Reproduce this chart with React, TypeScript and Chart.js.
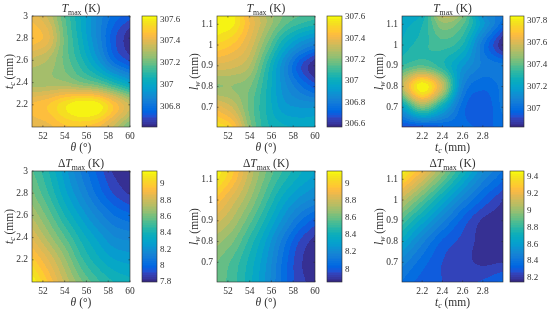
import React, { useEffect, useRef } from "react";
import { Chart, registerables } from "chart.js";

Chart.register(...registerables);

const thetaNodes = [51, 52.5, 54, 55.5, 57, 58.5, 60];
const tcRows = [2, 2.2, 2.4, 2.6, 2.8, 3];
const tcNodes = [2, 2.2, 2.4, 2.6, 2.8, 3];
const lwRows = [0.605, 0.7, 0.8, 0.9, 1, 1.1, 1.14];

const thetaTicks = [52, 54, 56, 58, 60];
const tcYTicks = [2.2, 2.4, 2.6, 2.8, 3];
const tcXTicks = [2.2, 2.4, 2.6, 2.8];
const lwTicks = [0.7, 0.8, 0.9, 1, 1.1];

const tmaxThetaTc = [
  [307.41, 307.43, 307.48, 307.49, 307.45, 307.34, 307.2],
  [307.45, 307.49, 307.57, 307.63, 307.61, 307.48, 307.34],
  [307.28, 307.28, 307.27, 307.22, 307.17, 307.08, 306.98],
  [307.34, 307.3, 307.2, 307.09, 306.95, 306.78, 306.69],
  [307.48, 307.41, 307.2, 307.04, 306.88, 306.72, 306.62],
  [307.43, 307.34, 307.17, 307.02, 306.88, 306.78, 306.72],
];
const tmaxThetaLw = [
  [307.56, 307.47, 307.21, 307.06, 307.01, 306.99, 306.99],
  [307.4, 307.32, 307.17, 307.04, 306.93, 306.9, 306.9],
  [307.23, 307.23, 307.19, 307.05, 306.89, 306.78, 306.69],
  [307.36, 307.34, 307.28, 307.09, 306.88, 306.69, 306.57],
  [307.51, 307.46, 307.36, 307.19, 307.01, 306.88, 306.8],
  [307.61, 307.57, 307.42, 307.28, 307.16, 307.09, 307.05],
  [307.61, 307.58, 307.4, 307.28, 307.19, 307.14, 307.11],
];
const tmaxTcLw = [
  [306.9, 306.91, 306.95, 306.98, 306.96, 306.98],
  [307.19, 307.44, 307.24, 306.99, 306.93, 307.03],
  [307.54, 307.84, 307.56, 307.08, 306.98, 307.03],
  [307.34, 307.39, 307.31, 307.16, 307.05, 307.03],
  [307.26, 307.32, 307.36, 307.29, 307.03, 306.83],
  [307.22, 307.29, 307.46, 307.39, 307.17, 306.98],
  [307.19, 307.26, 307.54, 307.44, 307.13, 307.03],
];
const dtThetaTc = [
  [9.15, 8.97, 8.78, 8.62, 8.5, 8.42, 8.38],
  [9.0, 8.85, 8.68, 8.5, 8.38, 8.3, 8.27],
  [8.85, 8.7, 8.55, 8.4, 8.28, 8.18, 8.15],
  [8.72, 8.58, 8.42, 8.28, 8.15, 8.05, 8.0],
  [8.62, 8.48, 8.32, 8.17, 8.03, 7.92, 7.85],
  [8.55, 8.42, 8.26, 8.1, 7.97, 7.85, 7.8],
];
const dtThetaLw = [
  [8.6, 8.52, 8.4, 8.25, 8.07, 7.94, 7.88],
  [8.62, 8.54, 8.42, 8.27, 8.08, 7.93, 7.86],
  [8.7, 8.62, 8.48, 8.32, 8.13, 7.97, 7.88],
  [8.82, 8.72, 8.58, 8.42, 8.25, 8.1, 8.0],
  [8.95, 8.82, 8.68, 8.52, 8.36, 8.25, 8.18],
  [9.1, 8.95, 8.76, 8.6, 8.47, 8.37, 8.3],
  [9.13, 8.98, 8.78, 8.62, 8.5, 8.4, 8.32],
];
const dtTcLw = [
  [8.38, 8.3, 8.27, 8.26, 8.28, 8.35],
  [8.48, 8.36, 8.27, 8.23, 8.2, 8.21],
  [8.66, 8.47, 8.32, 8.25, 8.19, 8.18],
  [8.86, 8.66, 8.47, 8.31, 8.2, 8.17],
  [9.08, 8.88, 8.67, 8.47, 8.32, 8.21],
  [9.36, 9.13, 8.9, 8.67, 8.47, 8.34],
  [9.46, 9.23, 8.98, 8.74, 8.53, 8.38],
];

const cbTicksA = [306.8, 307, 307.2, 307.4, 307.6];
const cbTicksB = [306.6, 306.8, 307, 307.2, 307.4, 307.6];
const cbTicksC = [307, 307.2, 307.4, 307.6, 307.8];
const cbTicksD = [7.8, 8, 8.2, 8.4, 8.6, 8.8, 9];
const cbTicksE = [8, 8.2, 8.4, 8.6, 8.8, 9];
const cbTicksF = [8.2, 8.4, 8.6, 8.8, 9, 9.2, 9.4];

const parula = [
  [0.2081,0.1663,0.5292],[0.2116,0.1898,0.5777],[0.2123,0.2138,0.6270],[0.2081,0.2386,0.6771],
  [0.1959,0.2645,0.7279],[0.1707,0.2919,0.7792],[0.1253,0.3242,0.8303],[0.0591,0.3598,0.8683],
  [0.0117,0.3875,0.8820],[0.0060,0.4086,0.8828],[0.0165,0.4266,0.8786],[0.0329,0.4430,0.8720],
  [0.0498,0.4586,0.8641],[0.0629,0.4737,0.8554],[0.0723,0.4887,0.8467],[0.0779,0.5040,0.8384],
  [0.0793,0.5200,0.8312],[0.0749,0.5375,0.8263],[0.0641,0.5570,0.8240],[0.0488,0.5772,0.8228],
  [0.0343,0.5966,0.8199],[0.0265,0.6137,0.8135],[0.0239,0.6287,0.8038],[0.0231,0.6418,0.7913],
  [0.0228,0.6535,0.7768],[0.0267,0.6642,0.7607],[0.0384,0.6743,0.7436],[0.0590,0.6838,0.7254],
  [0.0843,0.6928,0.7062],[0.1133,0.7015,0.6859],[0.1453,0.7098,0.6646],[0.1801,0.7177,0.6424],
  [0.2178,0.7250,0.6193],[0.2586,0.7317,0.5954],[0.3022,0.7376,0.5712],[0.3482,0.7424,0.5473],
  [0.3953,0.7459,0.5244],[0.4420,0.7481,0.5033],[0.4871,0.7491,0.4840],[0.5300,0.7491,0.4661],
  [0.5709,0.7485,0.4494],[0.6099,0.7473,0.4337],[0.6473,0.7456,0.4188],[0.6834,0.7435,0.4044],
  [0.7184,0.7411,0.3905],[0.7525,0.7384,0.3768],[0.7858,0.7356,0.3633],[0.8185,0.7327,0.3498],
  [0.8507,0.7299,0.3360],[0.8824,0.7274,0.3217],[0.9139,0.7258,0.3063],[0.9450,0.7261,0.2886],
  [0.9739,0.7314,0.2666],[0.9938,0.7455,0.2403],[0.9990,0.7653,0.2164],[0.9955,0.7861,0.1967],
  [0.9880,0.8066,0.1794],[0.9789,0.8271,0.1633],[0.9697,0.8481,0.1475],[0.9626,0.8705,0.1309],
  [0.9589,0.8949,0.1132],[0.9598,0.9218,0.0948],[0.9661,0.9514,0.0755],[0.9763,0.9831,0.0538],
];

const FONT = '"Liberation Serif"';
const INK = "#303030";
const LEVELS = 22;

type Run = { t: string; i?: boolean; sub?: boolean };
const titleT: Run[] = [{ t: "T", i: true }, { t: "max", sub: true }, { t: " (K)" }];
const titleD: Run[] = [{ t: "\u0394" }, { t: "T", i: true }, { t: "max", sub: true }, { t: " (K)" }];
const labelTheta: Run[] = [{ t: "\u03b8", i: true }, { t: " (\u00b0)" }];
const labelTc: Run[] = [{ t: "t", i: true }, { t: "c", i: true, sub: true }, { t: " (mm)" }];
const labelLw: Run[] = [{ t: "l", i: true }, { t: "w", i: true, sub: true }, { t: " (mm)" }];

function rgb(f: number) {
  const k = Math.max(0, Math.min(63, Math.floor(f * 64)));
  const c = parula[k];
  return [Math.round(c[0] * 255), Math.round(c[1] * 255), Math.round(c[2] * 255)];
}

function tangents(xs: number[], vs: number[]) {
  return xs.map((_, i) => {
    if (i === 0) return (vs[1] - vs[0]) / (xs[1] - xs[0]);
    if (i === xs.length - 1) return (vs[i] - vs[i - 1]) / (xs[i] - xs[i - 1]);
    return (vs[i + 1] - vs[i - 1]) / (xs[i + 1] - xs[i - 1]);
  });
}
function hermite(xs: number[], vs: number[], x: number) {
  let i = 0;
  while (i < xs.length - 2 && x > xs[i + 1]) i++;
  const h = xs[i + 1] - xs[i];
  const t = (x - xs[i]) / h;
  const m = tangents(xs, vs);
  const t2 = t * t, t3 = t2 * t;
  return (2 * t3 - 3 * t2 + 1) * vs[i] + (t3 - 2 * t2 + t) * h * m[i] + (-2 * t3 + 3 * t2) * vs[i + 1] + (t3 - t2) * h * m[i + 1];
}

function drawRuns(ctx: any, runs: Run[], cx: number, cy: number, size: number, rot = 0) {
  ctx.save();
  ctx.translate(cx, cy);
  ctx.rotate(rot);
  ctx.fillStyle = INK;
  ctx.textBaseline = "alphabetic";
  ctx.textAlign = "left";
  const fontOf = (r: Run) => `${r.i ? "italic " : ""}${r.sub ? size * 0.68 : size}px ${FONT}`;
  let w = 0;
  for (const r of runs) { ctx.font = fontOf(r); w += ctx.measureText(r.t).width; }
  let x = -w / 2;
  for (const r of runs) {
    ctx.font = fontOf(r);
    ctx.fillText(r.t, x, size * 0.33 + (r.sub ? size * 0.22 : 0));
    x += ctx.measureText(r.t).width;
  }
  ctx.restore();
}

type Panel = {
  left: number; top: number; width: number; height: number;
  plotL: number; plotR: number; plotT: number; plotB: number;
  cbL: number; cbR: number; labelX: number;
  xs: number[]; ys: number[]; z: number[][];
  xMin: number; xMax: number; yMin: number; yMax: number;
  cMin: number; cMax: number;
  xTicks: number[]; yTicks: number[]; cTicks: number[];
  title: Run[]; xLabel: Run[]; yLabel: Run[];
};

const fieldPlugin = {
  id: "field",
  beforeDatasetsDraw(chart: any, _a: any, o: any) {
    const p: Panel = o.panel;
    const { ctx, chartArea: a, scales } = chart;
    const pts = chart.data.datasets[0].data;
    const nx = p.xs.length;
    const w = Math.round(a.right - a.left), h = Math.round(a.bottom - a.top);
    const off = document.createElement("canvas");
    off.width = w; off.height = h;
    const oc: any = off.getContext("2d");
    const img = oc.createImageData(w, h);
    const rows = p.ys.map((_, r) => pts.slice(r * nx, (r + 1) * nx).map((d: any) => d.v));
    for (let py = 0; py < h; py++) {
      const yv = scales.y.getValueForPixel(a.top + py + 0.5);
      for (let px = 0; px < w; px++) {
        const xv = scales.x.getValueForPixel(a.left + px + 0.5);
        const col = rows.map((row: number[]) => hermite(p.xs, row, xv));
        const v = hermite(p.ys, col, yv);
        let f = (v - p.cMin) / (p.cMax - p.cMin);
        f = (Math.floor(Math.max(0, Math.min(0.9999, f)) * LEVELS) + 0.5) / LEVELS;
        const c = rgb(f);
        const k = (py * w + px) * 4;
        img.data[k] = c[0]; img.data[k + 1] = c[1]; img.data[k + 2] = c[2]; img.data[k + 3] = 255;
      }
    }
    oc.putImageData(img, 0, 0);
    ctx.save();
    ctx.drawImage(off, a.left, a.top);
    ctx.beginPath();
    ctx.rect(a.left, a.top, w, h);
    ctx.clip();
    ctx.filter = "blur(0.5px)";
    ctx.drawImage(off, a.left, a.top);
    ctx.restore();
    const cb = scales.cb;
    for (let py = Math.round(a.top); py < Math.round(a.bottom); py++) {
      const v = cb.getValueForPixel(py + 0.5);
      const c = rgb((v - p.cMin) / (p.cMax - p.cMin));
      ctx.fillStyle = `rgb(${c[0]},${c[1]},${c[2]})`;
      ctx.fillRect(p.cbL - p.left, py, p.cbR - p.cbL, 1);
    }
  },
  afterDraw(chart: any, _a: any, o: any) {
    const p: Panel = o.panel;
    const { ctx, chartArea: a, scales } = chart;
    ctx.save();
    ctx.strokeStyle = "#2a2a2a";
    ctx.lineWidth = 0.6;
    const tick = (x0: number, y0: number, x1: number, y1: number) => {
      ctx.beginPath(); ctx.moveTo(x0, y0); ctx.lineTo(x1, y1); ctx.stroke();
    };
    ctx.strokeRect(a.left, a.top, a.right - a.left, a.bottom - a.top);
    const cL = p.cbL - p.left, cR = p.cbR - p.left;
    ctx.strokeRect(cL, a.top, cR - cL, a.bottom - a.top);
    for (const t of scales.x.ticks) {
      const x = scales.x.getPixelForValue(t.value);
      tick(x, a.bottom, x, a.bottom - 1.5);
      tick(x, a.top, x, a.top + 1.5);
    }
    for (const t of scales.y.ticks) {
      const y = scales.y.getPixelForValue(t.value);
      tick(a.left, y, a.left + 1.5, y);
      tick(a.right, y, a.right - 1.5, y);
    }
    ctx.restore();
    const cx = (a.left + a.right) / 2;
    drawRuns(ctx, p.title, cx, a.top - 7.5, 11.5);
    drawRuns(ctx, p.xLabel, cx, a.bottom + 20, 11.5);
    drawRuns(ctx, p.yLabel, p.labelX - p.left, (a.top + a.bottom) / 2, 11.5, -Math.PI / 2);
  },
};

function zeroPad(s: any) {
  s.paddingTop = 0; s.paddingBottom = 0; s.paddingLeft = 0; s.paddingRight = 0;
}

function makeConfig(p: Panel): any {
  const points: any[] = [];
  p.ys.forEach((y, r) => p.xs.forEach((x, c) => points.push({ x, y, v: p.z[r][c] })));
  const tickFont = { family: FONT, size: 9.5 };
  const fmt = (v: any) => String(Math.round(v * 100) / 100);
  const grid = { display: false, drawTicks: false };
  return {
    type: "scatter",
    data: { datasets: [{ data: points, pointRadius: 0, showLine: false, xAxisID: "x", yAxisID: "y" }] },
    plugins: [fieldPlugin],
    options: {
      animation: false,
      responsive: false,
      layout: { padding: { top: p.plotT - p.top, left: 0, right: 0, bottom: 0 } },
      plugins: { legend: { display: false }, tooltip: { enabled: false }, title: { display: false }, field: { panel: p } },
      scales: {
        x: {
          type: "linear", position: "bottom", min: p.xMin, max: p.xMax,
          grid, border: { display: false },
          afterBuildTicks: (s: any) => { s.ticks = p.xTicks.map((value) => ({ value })); },
          afterFit: (s: any) => { s.height = p.top + p.height - p.plotB; zeroPad(s); },
          ticks: { color: INK, font: tickFont, padding: 4, maxRotation: 0, autoSkip: false, callback: fmt },
        },
        y: {
          type: "linear", position: "left", min: p.yMin, max: p.yMax,
          grid, border: { display: false },
          afterBuildTicks: (s: any) => { s.ticks = p.yTicks.map((value) => ({ value })); },
          afterFit: (s: any) => { s.width = p.plotL - p.left; zeroPad(s); },
          ticks: { color: INK, font: tickFont, padding: 4, autoSkip: false, callback: fmt },
        },
        cb: {
          type: "linear", position: "right", min: p.cMin, max: p.cMax,
          grid, border: { display: false },
          afterBuildTicks: (s: any) => { s.ticks = p.cTicks.map((value) => ({ value })); },
          afterFit: (s: any) => { s.width = p.left + p.width - p.plotR; zeroPad(s); },
          ticks: { color: INK, font: { family: FONT, size: 9 }, padding: p.cbR - p.plotR + 3, autoSkip: false, callback: fmt },
        },
      },
    },
  };
}

const columns = [
  { left: 0, width: 190, plotL: 32, plotR: 130, cbL: 142, cbR: 157, labelX: 9 },
  { left: 180, width: 190, plotL: 217, plotR: 315, cbL: 327, cbR: 342, labelX: 194 },
  { left: 360, width: 190, plotL: 402, plotR: 503, cbL: 510, cbR: 524, labelX: 379 },
];
const rowsGeom = [
  { top: 0, height: 156, plotT: 16, plotB: 127 },
  { top: 156, height: 156, plotT: 171, plotB: 282 },
];
const thetaX = { xs: thetaNodes, xMin: 51, xMax: 60, xTicks: thetaTicks, xLabel: labelTheta };
const tcX = { xs: tcNodes, xMin: 2, xMax: 3, xTicks: tcXTicks, xLabel: labelTc };
const tcY = { ys: tcRows, yMin: 2, yMax: 3, yTicks: tcYTicks, yLabel: labelTc };
const lwY = { ys: lwRows, yMin: 0.605, yMax: 1.14, yTicks: lwTicks, yLabel: labelLw };

const panels: Panel[] = [
  { ...columns[0], ...rowsGeom[0], ...thetaX, ...tcY, z: tmaxThetaTc, cMin: 306.61, cMax: 307.63, cTicks: cbTicksA, title: titleT },
  { ...columns[1], ...rowsGeom[0], ...thetaX, ...lwY, z: tmaxThetaLw, cMin: 306.57, cMax: 307.61, cTicks: cbTicksB, title: titleT },
  { ...columns[2], ...rowsGeom[0], ...tcX, ...lwY, z: tmaxTcLw, cMin: 306.83, cMax: 307.845, cTicks: cbTicksC, title: titleT },
  { ...columns[0], ...rowsGeom[1], ...thetaX, ...tcY, z: dtThetaTc, cMin: 7.8, cMax: 9.16, cTicks: cbTicksD, title: titleD },
  { ...columns[1], ...rowsGeom[1], ...thetaX, ...lwY, z: dtThetaLw, cMin: 7.85, cMax: 9.15, cTicks: cbTicksE, title: titleD },
  { ...columns[2], ...rowsGeom[1], ...tcX, ...lwY, z: dtTcLw, cMin: 8.15, cMax: 9.47, cTicks: cbTicksF, title: titleD },
] as any;

function PanelChart({ p }: { p: Panel }) {
  const ref = useRef<HTMLCanvasElement>(null);
  useEffect(() => {
    const chart = new Chart(ref.current as any, makeConfig(p));
    return () => chart.destroy();
  }, [p]);
  return (
    <canvas
      ref={ref}
      width={p.width}
      height={p.height}
      style={{ position: "absolute", left: p.left, top: p.top, width: p.width, height: p.height }}
    />
  );
}

export default function App() {
  return (
    <div style={{ position: "fixed", left: 0, top: 0, width: 550, height: 312, background: "#fff", overflow: "hidden" }}>
      {panels.map((p, i) => <PanelChart key={i} p={p} />)}
    </div>
  );
}
